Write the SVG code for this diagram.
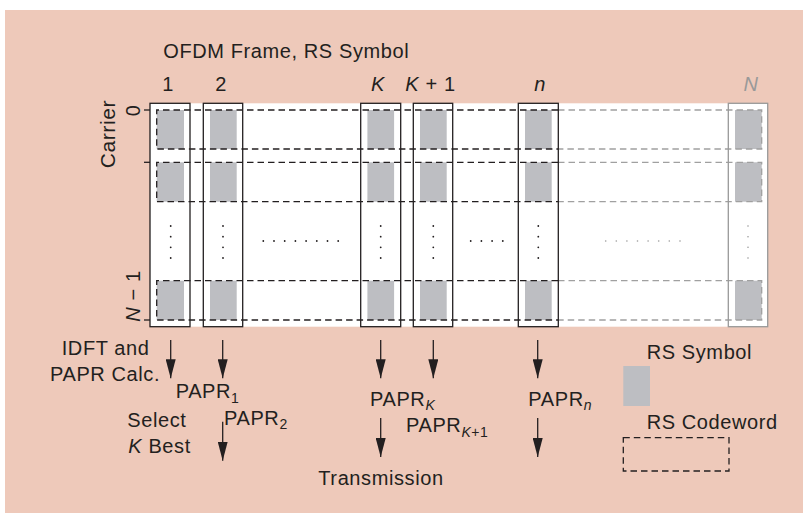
<svg xmlns="http://www.w3.org/2000/svg" width="803" height="513" viewBox="0 0 803 513">
<defs>
<style>
text{font-family:"Liberation Sans",Arial,sans-serif;font-size:20px;fill:#231f20;letter-spacing:0.6px}
.it{font-style:italic}
.sub{font-size:14px}
.col{fill:none;stroke:#231f20;stroke-width:1.3}
.colg{fill:none;stroke:#999;stroke-width:1.3}
.sym{fill:#bdbec2}
.dk{fill:none;stroke:#231f20;stroke-width:1.3;stroke-dasharray:6.5 4}
.lt{fill:none;stroke:#a0a0a0;stroke-width:1.3;stroke-dasharray:6.5 4}
.tick{stroke:#231f20;stroke-width:1.3}
.arr{stroke:#231f20;stroke-width:1.3;fill:none;marker-end:url(#ah)}
.dot{fill:#231f20}
.dotg{fill:#999}
</style>
<marker id="ah" markerUnits="userSpaceOnUse" markerWidth="19" markerHeight="10" viewBox="0 0 19 10" refX="19" refY="5" orient="auto">
<path d="M0,0 L19,5 L0,10 Z" fill="#231f20"/>
</marker>
</defs>
<rect x="5" y="10" width="798" height="503" fill="#eec9ba"/>
<g id="frame">
<rect x="150" y="103.3" width="618" height="223.4" fill="#fff"/>
</g>
<g id="symbols">
<g class="sym">
<rect x="156.7" y="110" width="27.3" height="39"/><rect x="156.7" y="162.3" width="27.3" height="39.4"/><rect x="156.7" y="280.7" width="27.3" height="39.3"/>
<rect x="210" y="110" width="26.7" height="39"/><rect x="210" y="162.3" width="26.7" height="39.4"/><rect x="210" y="280.7" width="26.7" height="39.3"/>
<rect x="367.4" y="110" width="26.7" height="39"/><rect x="367.4" y="162.3" width="26.7" height="39.4"/><rect x="367.4" y="280.7" width="26.7" height="39.3"/>
<rect x="420" y="110" width="26.7" height="39"/><rect x="420" y="162.3" width="26.7" height="39.4"/><rect x="420" y="280.7" width="26.7" height="39.3"/>
<rect x="525" y="110" width="26.7" height="39"/><rect x="525" y="162.3" width="26.7" height="39.4"/><rect x="525" y="280.7" width="26.7" height="39.3"/>
<rect x="735" y="110" width="26.7" height="39"/><rect x="735" y="162.3" width="26.7" height="39.4"/><rect x="735" y="280.7" width="26.7" height="39.3"/>
</g>
</g>
<g id="codewords">
<path class="dk" d="M558,110 H156.7 V149 H558"/>
<path class="lt" d="M558,110 H761.7 V149 H558"/>
<path class="dk" d="M558,162.3 H156.7 V201.7 H558"/>
<path class="lt" d="M558,162.3 H761.7 V201.7 H558"/>
<path class="dk" d="M558,280.7 H156.7 V320 H558"/>
<path class="lt" d="M558,280.7 H761.7 V320 H558"/>
<line class="tick" x1="144" y1="110" x2="150" y2="110"/>
<line class="tick" x1="144" y1="162.3" x2="150" y2="162.3"/>
<line class="tick" x1="144" y1="320" x2="150" y2="320"/>
</g>
<g id="columns">
<rect class="col" x="150" y="103.3" width="40" height="223.4"/>
<rect class="col" x="203.3" y="103.3" width="39.4" height="223.4"/>
<rect class="col" x="360.7" y="103.3" width="40" height="223.4"/>
<rect class="col" x="413.3" y="103.3" width="39.4" height="223.4"/>
<rect class="col" x="518.3" y="103.3" width="40" height="223.4"/>
<rect class="colg" x="728.3" y="103.3" width="39.4" height="223.4"/>
</g>
<g id="dots">
<g class="dot">
<circle cx="170.7" cy="226" r="0.9"/><circle cx="170.7" cy="236.7" r="0.9"/><circle cx="170.7" cy="247.3" r="0.9"/><circle cx="170.7" cy="258" r="0.9"/>
<circle cx="223" cy="226" r="0.9"/><circle cx="223" cy="236.7" r="0.9"/><circle cx="223" cy="247.3" r="0.9"/><circle cx="223" cy="258" r="0.9"/>
<circle cx="380.7" cy="226" r="0.9"/><circle cx="380.7" cy="236.7" r="0.9"/><circle cx="380.7" cy="247.3" r="0.9"/><circle cx="380.7" cy="258" r="0.9"/>
<circle cx="433.3" cy="226" r="0.9"/><circle cx="433.3" cy="236.7" r="0.9"/><circle cx="433.3" cy="247.3" r="0.9"/><circle cx="433.3" cy="258" r="0.9"/>
<circle cx="538.3" cy="226" r="0.9"/><circle cx="538.3" cy="236.7" r="0.9"/><circle cx="538.3" cy="247.3" r="0.9"/><circle cx="538.3" cy="258" r="0.9"/>
<circle cx="263.3" cy="241" r="0.9"/><circle cx="274" cy="241" r="0.9"/><circle cx="284.7" cy="241" r="0.9"/><circle cx="295.4" cy="241" r="0.9"/><circle cx="306.1" cy="241" r="0.9"/><circle cx="316.8" cy="241" r="0.9"/><circle cx="327.5" cy="241" r="0.9"/><circle cx="338.2" cy="241" r="0.9"/>
<circle cx="470.7" cy="241" r="0.9"/><circle cx="481.4" cy="241" r="0.9"/><circle cx="492.1" cy="241" r="0.9"/><circle cx="502.8" cy="241" r="0.9"/>
</g>
<g class="dotg">
<circle cx="748" cy="226" r="0.8"/><circle cx="748" cy="236.7" r="0.8"/><circle cx="748" cy="247.3" r="0.8"/><circle cx="748" cy="258" r="0.8"/>
<circle cx="605.7" cy="241" r="0.8"/><circle cx="616.3" cy="241" r="0.8"/><circle cx="626.9" cy="241" r="0.8"/><circle cx="637.5" cy="241" r="0.8"/><circle cx="648.1" cy="241" r="0.8"/><circle cx="658.7" cy="241" r="0.8"/><circle cx="669.3" cy="241" r="0.8"/><circle cx="680" cy="241" r="0.8"/>
</g>
</g>
<g id="labels">
<text x="163.3" y="58">OFDM Frame, RS Symbol</text>
<text x="168" y="91" text-anchor="middle">1</text>
<text x="221" y="91" text-anchor="middle">2</text>
<text class="it" x="378" y="91" text-anchor="middle">K</text>
<text x="430.5" y="91" text-anchor="middle"><tspan class="it">K</tspan> + 1</text>
<text class="it" x="540" y="91" text-anchor="middle">n</text>
<text class="it" x="751" y="91" text-anchor="middle" style="fill:#999">N</text>
<text transform="translate(115,168.3) rotate(-90)" style="font-size:21px">Carrier</text>
<text transform="translate(140,110.5) rotate(-90)" text-anchor="middle">0</text>
<text transform="translate(140,321.7) rotate(-90)"><tspan class="it">N</tspan> − 1</text>
</g>
<g id="connectors">
<line class="arr" x1="170.7" y1="340" x2="170.7" y2="378.3"/>
<line class="arr" x1="222.7" y1="340" x2="222.7" y2="378.3"/>
<line class="arr" x1="380.7" y1="340" x2="380.7" y2="378.3"/>
<line class="arr" x1="433.3" y1="340" x2="433.3" y2="378.3"/>
<line class="arr" x1="537.7" y1="340" x2="537.7" y2="378.3"/>
<line class="arr" x1="222.7" y1="421.7" x2="222.7" y2="460.7"/>
<line class="arr" x1="380.7" y1="418" x2="380.7" y2="457"/>
<line class="arr" x1="537.7" y1="418" x2="537.7" y2="457"/>
</g>
<g id="steps">
<text x="61.7" y="355">IDFT and</text>
<text x="50" y="380.7">PAPR Calc.</text>
<text x="175.7" y="398.3">PAPR<tspan class="sub" dy="5">1</tspan></text>
<text x="224" y="425">PAPR<tspan class="sub" dy="4">2</tspan></text>
<text x="127.3" y="427.3">Select</text>
<text x="128.3" y="453.3"><tspan class="it">K</tspan> Best</text>
<text x="370" y="406">PAPR<tspan class="sub it" dy="4">K</tspan></text>
<text x="406" y="431.7">PAPR<tspan class="sub" dy="5"><tspan class="it">K</tspan>+1</tspan></text>
<text x="318.3" y="485">Transmission</text>
<text x="528.3" y="406">PAPR<tspan class="sub it" dy="4">n</tspan></text>
</g>
<g id="legend">
<text x="646.7" y="359.3">RS Symbol</text>
<rect class="sym" x="623.3" y="366" width="26.7" height="40"/>
<text x="646.7" y="429.3">RS Codeword</text>
<rect x="623.3" y="437.7" width="105.7" height="33.3" fill="none" stroke="#231f20" stroke-width="1.3" stroke-dasharray="6.5 4"/>
</g>
</svg>
